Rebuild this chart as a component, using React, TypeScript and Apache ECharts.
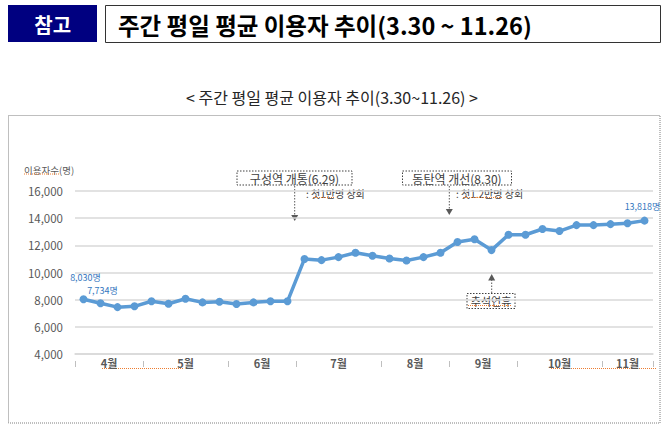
import React, { useEffect, useRef } from "react";
import * as echarts from "echarts";

const weekLabels = [
  "4월1주", "4월2주", "4월3주", "4월4주",
  "5월1주", "5월2주", "5월3주", "5월4주", "5월5주",
  "6월1주", "6월2주", "6월3주", "6월4주",
  "7월1주", "7월2주", "7월3주", "7월4주", "7월5주",
  "8월1주", "8월2주", "8월3주", "8월4주",
  "9월1주", "9월2주", "9월3주", "9월4주",
  "10월1주", "10월2주", "10월3주", "10월4주", "10월5주",
  "11월1주", "11월2주", "11월3주",
];

const weeklyUsers = [
  8030, 7734, 7450, 7510,
  7880, 7700, 8070, 7800, 7850,
  7680, 7800, 7880, 7880,
  11000, 10910, 11130, 11450, 11230,
  11030, 10880, 11130, 11450,
  12250, 12450, 11650, 12780,
  12780, 13200, 13050, 13490, 13490,
  13560, 13630, 13818,
];

const monthNames = ["4월", "5월", "6월", "7월", "8월", "9월", "10월", "11월"];
const weeksPerMonth = [4, 5, 4, 5, 4, 4, 5, 3];

const yMin = 4000;
const yMax = 16000;
const yStep = 2000;

const labeledWeeks = [0, 1, 33];

const headerTag = "참고";
const headerTitle = "주간 평일 평균 이용자 추이(3.30 ~ 11.26)";
const subTitle = "< 주간 평일 평균 이용자 추이(3.30~11.26) >";
const yAxisTitle = "이용자수(명)";
const note1 = "구성역 개통(6.29)";
const note1Sub = ": 첫1만명 상회";
const note2 = "동탄역 개선(8.30)";
const note2Sub = ": 첫1.2만명 상회";
const note3 = "추석연휴";

const FONT = '"Noto Sans CJK KR", "Noto Sans", sans-serif';

export default function App() {
  const ref = useRef<HTMLDivElement>(null);

  useEffect(() => {
    const chart = echarts.init(ref.current!, null, { renderer: "svg" });

    const bounds: number[] = [-0.5];
    const centers: number[] = [];
    let acc = -0.5;
    weeksPerMonth.forEach((n) => {
      centers.push(acc + n / 2);
      acc += n;
      bounds.push(acc);
    });
    const nWeeks = weekLabels.length;

    const labelOffsets: Record<number, { d: number; dx: number }> = {
      0: { d: 13, dx: 2 },
      1: { d: 4, dx: 2 },
      33: { d: 5, dx: -2 },
    };

    const seriesData = weeklyUsers.map((v, i) => {
      if (labeledWeeks.includes(i)) {
        const o = labelOffsets[i] || { d: 5, dx: 0 };
        return {
          value: v,
          label: {
            show: true,
            position: "top",
            distance: o.d,
            offset: [o.dx, 0],
            formatter: (p: any) => p.value.toLocaleString("en-US") + "명",
            color: "#3577c0",
            fontSize: 9,
            lineHeight: 10,
            fontFamily: FONT,
          },
        };
      }
      return v;
    });

    const dashLine = (x1: number, y1: number, x2: number, y2: number) => ({
      type: "line",
      shape: { x1, y1, x2, y2 },
      style: { stroke: "#595959", lineWidth: 1, lineDash: [1.5, 1.5] },
    });
    const squiggle = (x1: number, x2: number, y: number) => ({
      type: "line",
      shape: { x1, y1: y, x2, y2: y },
      style: { stroke: "#ed7d31", lineWidth: 1, lineDash: [1, 1] },
    });

    const option: any = {
      animation: false,
      backgroundColor: "#ffffff",
      grid: { left: 75, right: 17, top: 191, bottom: 76, containLabel: false },
      xAxis: [
        {
          type: "category",
          data: weekLabels,
          boundaryGap: true,
          axisLine: { show: true, lineStyle: { color: "#d9d9d9", width: 1.5 } },
          axisTick: { show: false },
          axisLabel: { show: false },
          splitLine: { show: false },
        },
        {
          type: "value",
          position: "bottom",
          min: -0.5,
          max: nWeeks - 0.5,
          offset: 7,
          axisLine: { show: false },
          splitLine: { show: false },
          axisTick: {
            show: true,
            length: 6,
            customValues: bounds,
            lineStyle: { color: "#bfbfbf", width: 1 },
          },
          axisLabel: { show: false },
        },
        {
          type: "value",
          position: "bottom",
          min: -0.5,
          max: nWeeks - 0.5,
          offset: 0,
          axisLine: { show: false },
          splitLine: { show: false },
          axisTick: { show: false },
          axisLabel: {
            show: true,
            customValues: centers,
            margin: 3,
            fontSize: 11,
            fontWeight: "bold",
            color: "#595959",
            fontFamily: FONT,
            formatter: (v: number) => {
              const k = centers.findIndex((c) => Math.abs(c - v) < 1e-6);
              return k >= 0 ? monthNames[k] : "";
            },
          },
        },
      ],
      yAxis: {
        type: "value",
        min: yMin,
        max: yMax,
        interval: yStep,
        axisLine: { show: false },
        axisTick: { show: false },
        axisLabel: {
          margin: 12,
          color: "#595959",
          fontSize: 11.5,
          fontFamily: FONT,
          formatter: (v: number) => v.toLocaleString("en-US"),
        },
        splitLine: { lineStyle: { color: "#d9d9d9", width: 1.5 } },
      },
      series: [
        {
          type: "line",
          xAxisIndex: 0,
          data: seriesData,
          symbol: "circle",
          symbolSize: 8,
          lineStyle: { color: "#5b9bd5", width: 3.5 },
          itemStyle: { color: "#5b9bd5" },
          label: { show: false },
        },
      ],
      graphic: [
        // header
        { type: "rect", shape: { x: 8, y: 5, width: 89, height: 37 }, style: { fill: "#000080" } },
        {
          type: "text",
          x: 52.7,
          y: 24,
          style: {
            text: headerTag,
            fill: "#ffffff",
            fontSize: 20,
            fontWeight: "bold",
            fontFamily: FONT,
            align: "center",
            verticalAlign: "middle",
          },
        },
        {
          type: "rect",
          shape: { x: 105.5, y: 5.5, width: 555, height: 37 },
          style: { fill: "#ffffff", stroke: "#333333", lineWidth: 1 },
        },
        {
          type: "text",
          x: 118,
          y: 24.5,
          style: {
            text: headerTitle,
            fill: "#000000",
            fontSize: 23.5,
            fontWeight: "bold",
            fontFamily: FONT,
            align: "left",
            verticalAlign: "middle",
          },
        },
        {
          type: "text",
          x: 332,
          y: 97,
          style: {
            text: subTitle,
            fill: "#262626",
            fontSize: 16,
            fontFamily: FONT,
            align: "center",
            verticalAlign: "middle",
          },
        },
        {
          type: "rect",
          shape: { x: 8.5, y: 115.5, width: 651.5, height: 307.5 },
          style: { fill: "none", stroke: "#7f7f7f", lineWidth: 1, lineDash: [1, 1] },
        },
        // y-axis title
        {
          type: "text",
          x: 24,
          y: 170,
          style: {
            text: yAxisTitle,
            fill: "#595959",
            fontSize: 9.5,
            fontFamily: FONT,
            align: "left",
            verticalAlign: "middle",
          },
        },
        // annotation 1
        {
          type: "rect",
          shape: { x: 237, y: 171, width: 115, height: 14 },
          style: { fill: "#ffffff", stroke: "#404040", lineWidth: 1, lineDash: [1.5, 1.5] },
        },
        {
          type: "text",
          x: 294.5,
          y: 178.5,
          style: {
            text: note1,
            fill: "#404040",
            fontSize: 12,
            fontFamily: FONT,
            align: "center",
            verticalAlign: "middle",
          },
        },
        {
          type: "text",
          x: 306,
          y: 193.5,
          style: {
            text: note1Sub,
            fill: "#404040",
            fontSize: 10,
            fontFamily: FONT,
            align: "left",
            verticalAlign: "middle",
          },
        },
        dashLine(294.7, 186, 294.7, 216),
        {
          type: "polygon",
          shape: { points: [[291.2, 215], [298.2, 215], [294.7, 221]] },
          style: { fill: "#595959" },
        },
        // annotation 2
        {
          type: "rect",
          shape: { x: 402.5, y: 171, width: 109, height: 14 },
          style: { fill: "#ffffff", stroke: "#404040", lineWidth: 1, lineDash: [1.5, 1.5] },
        },
        {
          type: "text",
          x: 457,
          y: 178.5,
          style: {
            text: note2,
            fill: "#404040",
            fontSize: 12,
            fontFamily: FONT,
            align: "center",
            verticalAlign: "middle",
          },
        },
        {
          type: "text",
          x: 456,
          y: 193.5,
          style: {
            text: note2Sub,
            fill: "#404040",
            fontSize: 10,
            fontFamily: FONT,
            align: "left",
            verticalAlign: "middle",
          },
        },
        dashLine(449.3, 186, 449.3, 210),
        {
          type: "polygon",
          shape: { points: [[445.8, 209], [452.8, 209], [449.3, 215]] },
          style: { fill: "#595959" },
        },
        // annotation 3
        {
          type: "rect",
          shape: { x: 467, y: 293.5, width: 48, height: 15 },
          style: { fill: "#ffffff", stroke: "#404040", lineWidth: 1, lineDash: [1.5, 1.5] },
        },
        {
          type: "text",
          x: 491,
          y: 301,
          style: {
            text: note3,
            fill: "#404040",
            fontSize: 11,
            fontFamily: FONT,
            align: "center",
            verticalAlign: "middle",
          },
        },
        dashLine(491.7, 293, 491.7, 280),
        {
          type: "polygon",
          shape: { points: [[488.2, 280.5], [495.2, 280.5], [491.7, 274]] },
          style: { fill: "#595959" },
        },
        // spell-check squiggles seen in the source image
        squiggle(24, 59, 174),
        squiggle(313, 335, 197.5),
        squiggle(463, 503, 197.5),
        squiggle(468, 512, 305.5),
        squiggle(102, 183, 368.5),
        squiggle(551, 656, 368.5),
      ],
    };

    chart.setOption(option);
    return () => chart.dispose();
  }, []);

  return (
    <div
      ref={ref}
      style={{ position: "fixed", left: 0, top: 0, width: 670, height: 430, background: "#fff" }}
    />
  );
}
